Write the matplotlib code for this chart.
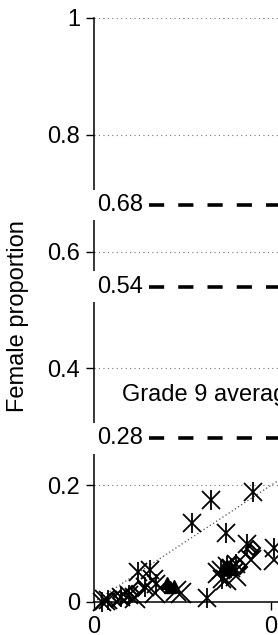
import numpy as np
import matplotlib.pyplot as plt
import matplotlib.transforms as mtransforms

plt.rcParams['font.family'] = ['Liberation Sans', 'DejaVu Sans']

# Опорні рівні (пунктирні лінії)
levels = [0.68, 0.54, 0.28]
level_labels = ["0.68", "0.54", "0.28"]

# Точки-зірочки
star_x = [0.132, 0.179, 0.111, 0.149, 0.173, 0.203, 0.128, 0.050, 0.063, 0.058,
          0.016, 0.009, 0.040, 0.150, 0.143, 0.160, 0.145, 0.070, 0.030, 0.155]
star_y = [0.175, 0.189, 0.135, 0.118, 0.100, 0.092, 0.006, 0.052, 0.055, 0.026,
          0.003, 0.000, 0.012, 0.062, 0.055, 0.065, 0.040, 0.030, 0.008, 0.058]

# Хрестики
cross_x = [0.093, 0.069, 0.177, 0.203, 0.149, 0.098, 0.046, 0.160, 0.067, 0.012, 0.140]
cross_y = [0.018, 0.015, 0.072, 0.072, 0.038, 0.015, 0.006, 0.045, 0.038, 0.004, 0.050]

# Ромби
diam_x = [0.050, 0.043, 0.037, 0.029, 0.020, 0.177, 0.160, 0.165, 0.180]
diam_y = [0.023, 0.015, 0.009, 0.006, 0.003, 0.086, 0.066, 0.060, 0.092]

# Заповнені трикутники
tri_x = [0.086, 0.082, 0.090, 0.150, 0.155, 0.147, 0.152]
tri_y = [0.026, 0.032, 0.028, 0.062, 0.058, 0.060, 0.056]

fig = plt.figure(figsize=(2.78, 6.35), dpi=100)
ax = fig.add_axes([94 / 278, 33 / 635, 184 / 278, 584 / 635])

ax.set_xlim(0, 184 / 886)
ax.set_ylim(0, 1)

# Сітка та діагональ y = x
ax.yaxis.grid(True, linestyle=(0, (1, 3)), linewidth=0.8, color="0.45")
ax.axline((0, 0), slope=1, linestyle=(0, (1, 2)), linewidth=0.9, color="0.3")

# Точки
ax.plot(star_x, star_y, "x", color="k", ms=13, mew=1.3, clip_on=False)
ax.plot(star_x, star_y, "|", color="k", ms=15, mew=1.3, clip_on=False)
ax.plot(cross_x, cross_y, "x", color="k", ms=14, mew=1.3, clip_on=False)
ax.plot(diam_x, diam_y, "D", mfc="none", mec="k", ms=7, mew=1.5, clip_on=False)
ax.plot(tri_x, tri_y, "^", color="k", ms=8, clip_on=False)

# Пунктирні рівні з підписами
for lev, lab in zip(levels, level_labels):
    ax.plot([0.062, 1], [lev, lev], color="k", lw=2.6,
            linestyle=(0, (4.2, 3.9)), clip_on=True)
    ax.text(0.004, lev, lab, fontsize=17, va="center", ha="left", zorder=5,
            bbox=dict(facecolor="white", edgecolor="none", pad=3))

ax.text(0.032, 0.355, "Grade 9 average", fontsize=17, va="center", ha="left")

# Осі
ax.spines["top"].set_visible(False)
ax.spines["right"].set_visible(False)
ax.spines["left"].set_linewidth(1.1)
ax.spines["bottom"].set_linewidth(1.1)
ax.set_yticks([0, 0.2, 0.4, 0.6, 0.8, 1])
ax.set_yticklabels(["0", "0.2", "0.4", "0.6", "0.8", "1"])
ax.set_xticks([0, 0.2])
ax.set_xticklabels(["0", "0.2"])
ax.tick_params(labelsize=17, length=6, width=1, direction="out", pad=4)

# Підпис 0.2 у джерелі трохи зсунутий праворуч
lbl = ax.get_xticklabels()[1]
lbl.set_transform(lbl.get_transform()
                  + mtransforms.ScaledTranslation(7 / 72, 0, fig.dpi_scale_trans))

ax.set_ylabel("Female proportion", fontsize=17)
ax.yaxis.set_label_coords(-0.355, 0.49)

fig.savefig("out.png", dpi=100)
